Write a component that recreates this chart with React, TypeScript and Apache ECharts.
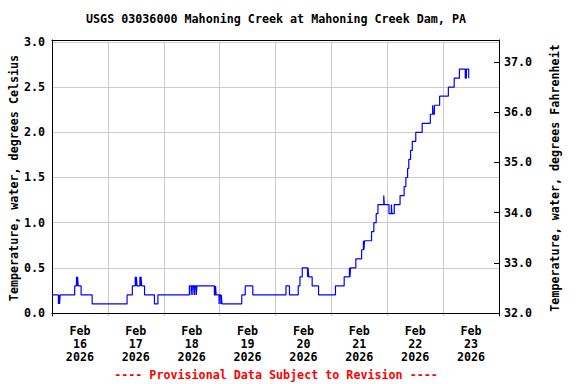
import React, { useEffect, useRef } from "react";
import * as echarts from "echarts";

const YEAR = 2026;
const MONTHS = ["Jan", "Feb", "Mar", "Apr", "May", "Jun", "Jul", "Aug", "Sep", "Oct", "Nov", "Dec"];
const TITLE = "USGS 03036000 Mahoning Creek at Mahoning Creek Dam, PA";
const FOOTNOTE = "---- Provisional Data Subject to Revision ----";
const LEFT_NAME = "Temperature, water, degrees Celsius";
const RIGHT_NAME = "Temperature, water, degrees Fahrenheit";

const xStart = "02-16 00:00";
const xEnd = "02-24 00:00";
const dayLabels = ["02-16", "02-17", "02-18", "02-19", "02-20", "02-21", "02-22", "02-23"];
const dayBoundaries = ["02-16", "02-17", "02-18", "02-19", "02-20", "02-21", "02-22", "02-23", "02-24"];
const celsiusTicks = [0, 0.5, 1, 1.5, 2, 2.5, 3];
const fahrenheitTicks = [32, 33, 34, 35, 36, 37];

// change points of the 15-minute record (value holds until the next time)
const readingTimes = [
  "02-16 00:00", "02-16 02:45", "02-16 03:00", "02-16 03:15", "02-16 03:30", "02-16 09:45",
  "02-16 10:30", "02-16 10:45", "02-16 11:00", "02-16 11:15", "02-16 12:30", "02-16 17:15",
  "02-17 08:15", "02-17 10:30", "02-17 11:45", "02-17 12:00", "02-17 12:15", "02-17 12:30",
  "02-17 13:45", "02-17 14:00", "02-17 14:15", "02-17 14:30", "02-17 15:45", "02-17 20:00",
  "02-17 21:30", "02-18 11:00", "02-18 11:45", "02-18 12:00", "02-18 12:30", "02-18 12:45",
  "02-18 13:15", "02-18 13:30", "02-18 14:00", "02-18 14:15", "02-18 21:45", "02-18 22:15",
  "02-18 22:30", "02-18 23:45", "02-19 00:00", "02-19 00:30", "02-19 00:45", "02-19 01:00",
  "02-19 09:30", "02-19 11:00", "02-19 14:15", "02-20 04:30", "02-20 06:00", "02-20 09:45",
  "02-20 10:30", "02-20 11:30", "02-20 13:45", "02-20 14:00", "02-20 14:15", "02-20 15:45",
  "02-20 18:30", "02-21 01:45", "02-21 05:30", "02-21 07:45", "02-21 08:00", "02-21 08:15",
  "02-21 10:30", "02-21 13:00", "02-21 13:45", "02-21 14:00", "02-21 14:15", "02-21 17:15",
  "02-21 18:15", "02-21 19:15", "02-21 20:00", "02-21 22:30", "02-21 22:45", "02-22 00:45",
  "02-22 01:45", "02-22 02:00", "02-22 03:00", "02-22 05:30", "02-22 07:15", "02-22 08:00",
  "02-22 08:45", "02-22 09:15", "02-22 10:00", "02-22 10:45", "02-22 12:15", "02-22 15:00",
  "02-22 18:30", "02-22 19:30", "02-22 19:45", "02-22 20:15", "02-22 22:30", "02-23 02:15",
  "02-23 04:45", "02-23 07:00", "02-23 09:30", "02-23 10:00", "02-23 11:00", "02-23 11:15",
];
const tempC = [
  0.2, 0.1, 0.2, 0.1, 0.2, 0.3,
  0.4, 0.3, 0.4, 0.3, 0.2, 0.1,
  0.2, 0.3, 0.4, 0.3, 0.4, 0.3,
  0.4, 0.3, 0.4, 0.3, 0.2, 0.1,
  0.2, 0.3, 0.2, 0.3, 0.2, 0.3,
  0.2, 0.3, 0.2, 0.3, 0.2, 0.3,
  0.2, 0.1, 0.2, 0.1, 0.2, 0.1,
  0.2, 0.3, 0.2, 0.3, 0.2, 0.3,
  0.4, 0.5, 0.4, 0.5, 0.4, 0.3,
  0.2, 0.3, 0.4, 0.5, 0.4, 0.5,
  0.6, 0.7, 0.8, 0.7, 0.8, 0.9,
  1.0, 1.1, 1.2, 1.3, 1.2, 1.1,
  1.2, 1.1, 1.2, 1.3, 1.4, 1.5,
  1.6, 1.7, 1.8, 1.9, 2.0, 2.1,
  2.2, 2.3, 2.2, 2.3, 2.4, 2.5,
  2.6, 2.7, 2.6, 2.7, 2.6, 2.6,
];

function toMs(s: string): number {
  const [md, hm] = s.split(" ");
  const [mo, d] = md.split("-").map(Number);
  const [h, m] = (hm || "00:00").split(":").map(Number);
  return Date.UTC(YEAR, mo - 1, d, h, m);
}

const FONT = "'DejaVu Sans Mono', monospace";
const FS = 11.7;

export default function App() {
  const ref = useRef<HTMLDivElement>(null);
  useEffect(() => {
    if (!ref.current) return;
    const chart = echarts.init(ref.current, undefined, { renderer: "svg" });
    const data = readingTimes.map((t, i) => [toMs(t), tempC[i]]);
    const cMin = -0.0332;
    const cMax = 3.0221;
    const textBase = { fontFamily: FONT, fontWeight: "bold" as const, fontSize: FS, color: "#000" };
    chart.setOption({
      animation: false,
      backgroundColor: "#fff",
      grid: { left: 52, right: 77, top: 40, bottom: 68, containLabel: false, outerBoundsMode: "none" },
      graphic: [
        {
          type: "text",
          x: 276,
          y: 19,
          style: {
            text: TITLE,
            fill: "#000",
            font: `bold ${FS}px ${FONT}`,
            align: "center",
            verticalAlign: "middle",
            textAlign: "center",
            textVerticalAlign: "middle",
          },
        },
        {
          type: "text",
          x: 276,
          y: 375,
          style: {
            text: FOOTNOTE,
            fill: "#ff0000",
            font: `bold ${FS}px ${FONT}`,
            align: "center",
            verticalAlign: "middle",
            textAlign: "center",
            textVerticalAlign: "middle",
          },
        },
      ],
      xAxis: [
        {
          type: "value",
          position: "bottom",
          min: toMs(xStart),
          max: toMs(xEnd),
          axisLine: { show: true, lineStyle: { color: "#000", width: 1 } },
          axisTick: { show: false, customValues: dayBoundaries.map((d) => toMs(d + " 00:00")) },
          splitLine: { show: true, lineStyle: { color: "#cccccc", width: 1 } },
          axisLabel: {
            ...textBase,
            customValues: dayLabels.map((d) => toMs(d + " 12:00")),
            margin: 8,
            lineHeight: 13,
            formatter: (v: number) => {
              const d = new Date(v);
              return `${MONTHS[d.getUTCMonth()]}\n${d.getUTCDate()}\n${d.getUTCFullYear()}`;
            },
          },
        },
        {
          type: "value",
          position: "top",
          min: toMs(xStart),
          max: toMs(xEnd),
          axisLine: { show: true, lineStyle: { color: "#000", width: 1 } },
          axisTick: { show: false },
          splitLine: { show: false },
          axisLabel: { show: false },
        },
      ],
      yAxis: [
        {
          type: "value",
          position: "left",
          min: cMin,
          max: cMax,
          name: LEFT_NAME,
          nameLocation: "middle",
          nameRotate: 90,
          nameGap: 32,
          nameMoveOverlap: false,
          nameTextStyle: { ...textBase },
          axisLine: { show: true, lineStyle: { color: "#000", width: 1 } },
          axisTick: { show: false, customValues: celsiusTicks },
          splitLine: { show: true, lineStyle: { color: "#cccccc", width: 1 } },
          axisLabel: {
            ...textBase,
            customValues: celsiusTicks,
            margin: 7,
            formatter: (v: number) => v.toFixed(1),
          },
        },
        {
          type: "value",
          position: "right",
          min: 32 + cMin * 1.8,
          max: 32 + cMax * 1.8,
          name: RIGHT_NAME,
          nameLocation: "middle",
          nameRotate: 90,
          nameGap: 50,
          nameMoveOverlap: false,
          nameTextStyle: { ...textBase },
          axisLine: { show: true, lineStyle: { color: "#000", width: 1 } },
          axisTick: { show: true, inside: true, length: 5, customValues: fahrenheitTicks, lineStyle: { color: "#000" } },
          splitLine: { show: false },
          axisLabel: {
            ...textBase,
            customValues: fahrenheitTicks,
            margin: 5,
            formatter: (v: number) => v.toFixed(1),
          },
        },
      ],
      series: [
        {
          type: "line",
          xAxisIndex: 0,
          yAxisIndex: 0,
          step: "end",
          showSymbol: false,
          symbol: "none",
          data,
          lineStyle: { color: "#0000ff", width: 1.2 },
        },
      ],
    });
    return () => chart.dispose();
  }, []);
  return <div ref={ref} style={{ position: "fixed", left: 0, top: 0, width: 576, height: 384 }} />;
}
